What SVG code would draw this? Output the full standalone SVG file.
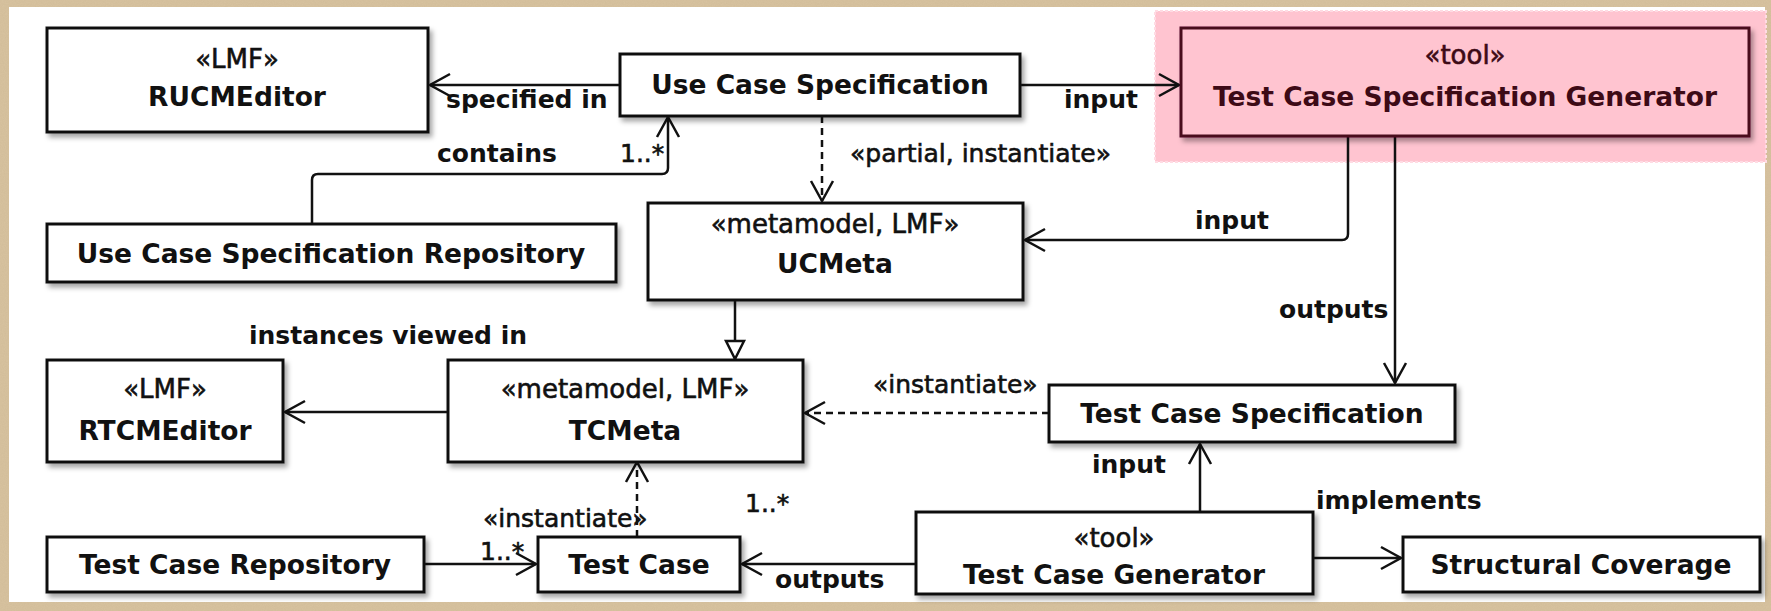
<svg xmlns="http://www.w3.org/2000/svg" width="1771" height="611" viewBox="0 0 1771 611">
<defs>
<style>
.box{fill:#fff;stroke:#111;stroke-width:3;filter:url(#sh)}
.pbox{fill:#ffc4d0;stroke:#4a0d1f;stroke-width:3;filter:url(#sh)}
.name{font-family:"DejaVu Sans",sans-serif;font-weight:bold;font-size:26.5px;fill:#111;text-anchor:middle}
.st{font-family:"DejaVu Sans",sans-serif;font-size:26px;fill:#111;stroke:#111;stroke-width:0.6;text-anchor:middle}
.pname{fill:#3d0a16;stroke:none}
.pst{fill:#3d0a16;stroke:#3d0a16}
.lbl{font-family:"DejaVu Sans",sans-serif;font-weight:bold;font-size:25px;fill:#111}
.lr{font-family:"DejaVu Sans",sans-serif;font-size:25px;fill:#111;stroke:#111;stroke-width:0.6}
.ln{fill:none;stroke:#111;stroke-width:2.5}
.dash{stroke-dasharray:7 5}
</style>
<filter id="sh" x="-5%" y="-10%" width="115%" height="140%">
<feDropShadow dx="3" dy="4" stdDeviation="2.5" flood-color="#000" flood-opacity="0.35"/>
</filter>
<filter id="noise" x="0" y="0" width="100%" height="100%">
<feTurbulence type="fractalNoise" baseFrequency="0.9" numOctaves="2" seed="3"/>
<feColorMatrix type="matrix" values="0 0 0 0 0.45  0 0 0 0 0.35  0 0 0 0 0.2  0 0 0 0.5 0"/>
</filter>
<marker id="arr" markerUnits="userSpaceOnUse" markerWidth="26" markerHeight="28" viewBox="-23 -14 26 28" refX="0" refY="0" orient="auto">
<path d="M-20,-11 L0,0 L-20,11" fill="none" stroke="#111" stroke-width="2.5"/>
</marker>
<marker id="tri" markerUnits="userSpaceOnUse" markerWidth="24" markerHeight="24" viewBox="-21 -12 24 24" refX="0" refY="0" orient="auto">
<path d="M-18,-9 L0,0 L-18,9 Z" fill="#fff" stroke="#111" stroke-width="2.5"/>
</marker>
</defs>

<rect x="0" y="0" width="1771" height="611" fill="#d8c3a0"/>
<rect x="0" y="0" width="1771" height="611" filter="url(#noise)" opacity="0.35"/>
<rect x="9" y="7" width="1756" height="595" fill="#fff"/>

<rect x="1155" y="11" width="611" height="151" fill="#ffc4d0" stroke="#ffdbe3" stroke-width="2" stroke-dasharray="3 2"/>

<g id="connectors">
<line class="ln" x1="620" y1="85" x2="430" y2="85" marker-end="url(#arr)"/>
<text class="lbl" x="446" y="108">specified in</text>
<line class="ln" x1="1020" y1="85" x2="1179" y2="85" marker-end="url(#arr)"/>
<text class="lbl" x="1064" y="108">input</text>
<path class="ln" d="M312,224 L312,180 Q312,174 318,174 L662,174 Q668,174 668,168 L668,117" marker-end="url(#arr)"/>
<text class="lbl" x="437" y="162">contains</text>
<text class="lr" x="620" y="162">1..*</text>
<line class="ln dash" x1="822" y1="116" x2="822" y2="201" marker-end="url(#arr)"/>
<text class="lr" x="850" y="162">«partial, instantiate»</text>
<path class="ln" d="M1348,136 L1348,234 Q1348,240 1342,240 L1025,240" marker-end="url(#arr)"/>
<text class="lbl" x="1195" y="229">input</text>
<line class="ln" x1="1395" y1="136" x2="1395" y2="383" marker-end="url(#arr)"/>
<text class="lbl" x="1279" y="318">outputs</text>
<line class="ln" x1="735" y1="300" x2="735" y2="359" marker-end="url(#tri)"/>
<line class="ln" x1="448" y1="412" x2="285" y2="412" marker-end="url(#arr)"/>
<text class="lbl" x="249" y="344">instances viewed in</text>
<line class="ln dash" x1="1049" y1="413" x2="805" y2="413" marker-end="url(#arr)"/>
<text class="lr" x="873" y="393">«instantiate»</text>
<line class="ln dash" x1="637" y1="537" x2="637" y2="462" marker-end="url(#arr)"/>
<text class="lr" x="483" y="527">«instantiate»</text>
<line class="ln" x1="424" y1="564" x2="536" y2="564" marker-end="url(#arr)"/>
<text class="lr" x="480" y="560">1..*</text>
<line class="ln" x1="916" y1="564" x2="742" y2="564" marker-end="url(#arr)"/>
<text class="lbl" x="775" y="588">outputs</text>
<text class="lr" x="745" y="512">1..*</text>
<line class="ln" x1="1200" y1="512" x2="1200" y2="444" marker-end="url(#arr)"/>
<text class="lbl" x="1092" y="473">input</text>
<line class="ln" x1="1313" y1="558" x2="1401" y2="558" marker-end="url(#arr)"/>
<text class="lbl" x="1316" y="509">implements</text>
</g>

<g id="rucmeditor">
<rect class="box" x="47" y="28" width="381" height="104"/>
<text class="st" x="237" y="68">«LMF»</text>
<text class="name" x="237" y="106">RUCMEditor</text>
</g>
<g id="use-case-specification">
<rect class="box" x="620" y="54" width="400" height="62"/>
<text class="name" x="820" y="94">Use Case Specification</text>
</g>
<g id="test-case-specification-generator">
<rect class="pbox" x="1181" y="28" width="568" height="108"/>
<text class="st pst" x="1465" y="64">«tool»</text>
<text class="name pname" x="1465" y="106">Test Case Specification Generator</text>
</g>
<g id="use-case-specification-repository">
<rect class="box" x="47" y="224" width="569" height="58"/>
<text class="name" x="331" y="263">Use Case Specification Repository</text>
</g>
<g id="ucmeta">
<rect class="box" x="648" y="203" width="375" height="97"/>
<text class="st" x="835" y="233">«metamodel, LMF»</text>
<text class="name" x="835" y="273">UCMeta</text>
</g>
<g id="rtcmeditor">
<rect class="box" x="47" y="360" width="236" height="102"/>
<text class="st" x="165" y="398">«LMF»</text>
<text class="name" x="165" y="440">RTCMEditor</text>
</g>
<g id="tcmeta">
<rect class="box" x="448" y="360" width="355" height="102"/>
<text class="st" x="625" y="398">«metamodel, LMF»</text>
<text class="name" x="625" y="440">TCMeta</text>
</g>
<g id="test-case-specification">
<rect class="box" x="1049" y="385" width="406" height="57"/>
<text class="name" x="1252" y="423">Test Case Specification</text>
</g>
<g id="test-case-repository">
<rect class="box" x="47" y="537" width="377" height="55"/>
<text class="name" x="235" y="574">Test Case Repository</text>
</g>
<g id="test-case">
<rect class="box" x="538" y="537" width="202" height="55"/>
<text class="name" x="639" y="574">Test Case</text>
</g>
<g id="test-case-generator">
<rect class="box" x="916" y="512" width="397" height="82"/>
<text class="st" x="1114" y="547">«tool»</text>
<text class="name" x="1114" y="584">Test Case Generator</text>
</g>
<g id="structural-coverage">
<rect class="box" x="1403" y="537" width="357" height="55"/>
<text class="name" x="1581" y="574">Structural Coverage</text>
</g>
</svg>
